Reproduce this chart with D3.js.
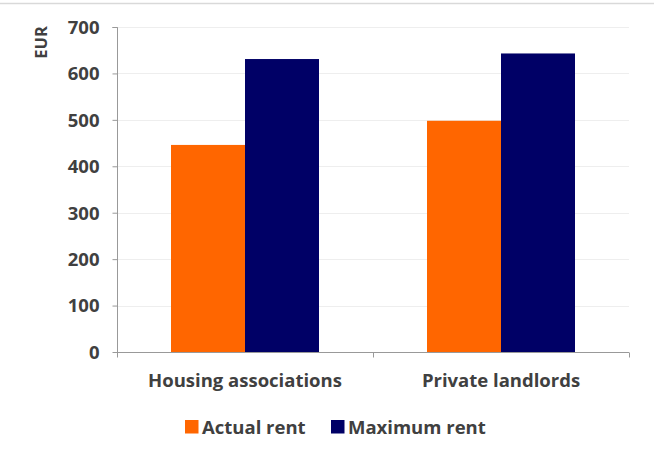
<!DOCTYPE html>
<html><head><meta charset="utf-8">
<script src="https://cdn.jsdelivr.net/npm/d3@7"></script>
<style>body{margin:0;background:#fff}svg{display:block}text{font-family:"Open Sans",sans-serif;font-weight:700;fill:#404040}</style>
</head><body>
<script>
const categories = ["Housing associations", "Private landlords"];
const seriesNames = ["Actual rent", "Maximum rent"];
const actualRent = [446, 498];
const maximumRent = [631, 643];
const yTicks = [0, 100, 200, 300, 400, 500, 600, 700];
const colors = ["#FF6600", "#000066"];

const W = 656, H = 450;
const svg = d3.select("body").append("svg").attr("width", W).attr("height", H);

// top rule
svg.append("line").attr("x1", 0).attr("x2", 654).attr("y1", 3.5).attr("y2", 3.5)
  .attr("stroke", "#d9d9d9").attr("stroke-width", 1.5);

const x0 = d3.scaleBand().domain(categories).range([117, 629]).paddingInner(0).paddingOuter(0);
const x1 = d3.scaleBand().domain(seriesNames).range([54, 256 - 54]);
const y = d3.scaleLinear().domain([0, 700]).range([352, 27]);

// gridlines
svg.append("g").selectAll("line").data(yTicks.slice(1)).join("line")
  .attr("x1", 117).attr("x2", 629).attr("y1", d => Math.round(y(d)) + 0.5).attr("y2", d => Math.round(y(d)) + 0.5)
  .attr("stroke", "#eeeeee").attr("stroke-width", 1);

const series = [actualRent, maximumRent];
const g = svg.append("g");
categories.forEach((c, i) => {
  seriesNames.forEach((s, j) => {
    g.append("rect")
      .attr("x", x0(c) + x1(s)).attr("width", x1.bandwidth())
      .attr("y", y(series[j][i])).attr("height", y(0) - y(series[j][i]))
      .attr("fill", colors[j]);
  });
});

// y axis
const yAxis = svg.append("g").attr("transform", "translate(117.5,0)")
  .call(d3.axisLeft(y).tickValues(yTicks).tickSize(5).tickPadding(13));
yAxis.select(".domain").attr("stroke", "#999").attr("d", "M-5,27.5H0V352.5");
yAxis.selectAll(".tick line").attr("stroke", "#999");
yAxis.selectAll("text").style("font-size", "18.5px").attr("fill", "#404040").attr("dy", "0.34em");

// x axis
const xAxisG = svg.append("g").attr("transform", "translate(0,352.5)");
xAxisG.append("line").attr("x1", 113).attr("x2", 629).attr("stroke", "#999");
const xTicks = [117, 373, 629];
xAxisG.selectAll(".xt").data(xTicks).join("line").attr("class", "xt")
  .attr("x1", d => d + 0.5).attr("x2", d => d + 0.5).attr("y1", 0).attr("y2", 5).attr("stroke", "#999");
xAxisG.selectAll("text").data(categories).join("text")
  .attr("x", d => x0(d) + x0.bandwidth() / 2).attr("y", 34.5)
  .attr("text-anchor", "middle").style("font-size", "18.5px").text(d => d);

// y title
svg.append("text").attr("transform", "translate(46.5,42.5) rotate(-90)")
  .attr("text-anchor", "middle").style("font-size", "16.5px").text("EUR");

// legend
const legendX = [185, 331];
const lg = svg.append("g");
seriesNames.forEach((s, j) => {
  lg.append("rect").attr("x", legendX[j]).attr("y", 420).attr("width", 13.5).attr("height", 13.5).attr("fill", colors[j]);
  lg.append("text").attr("x", legendX[j] + 17).attr("y", 433.5).style("font-size", "18.5px").text(s);
});
</script>
</body></html>
